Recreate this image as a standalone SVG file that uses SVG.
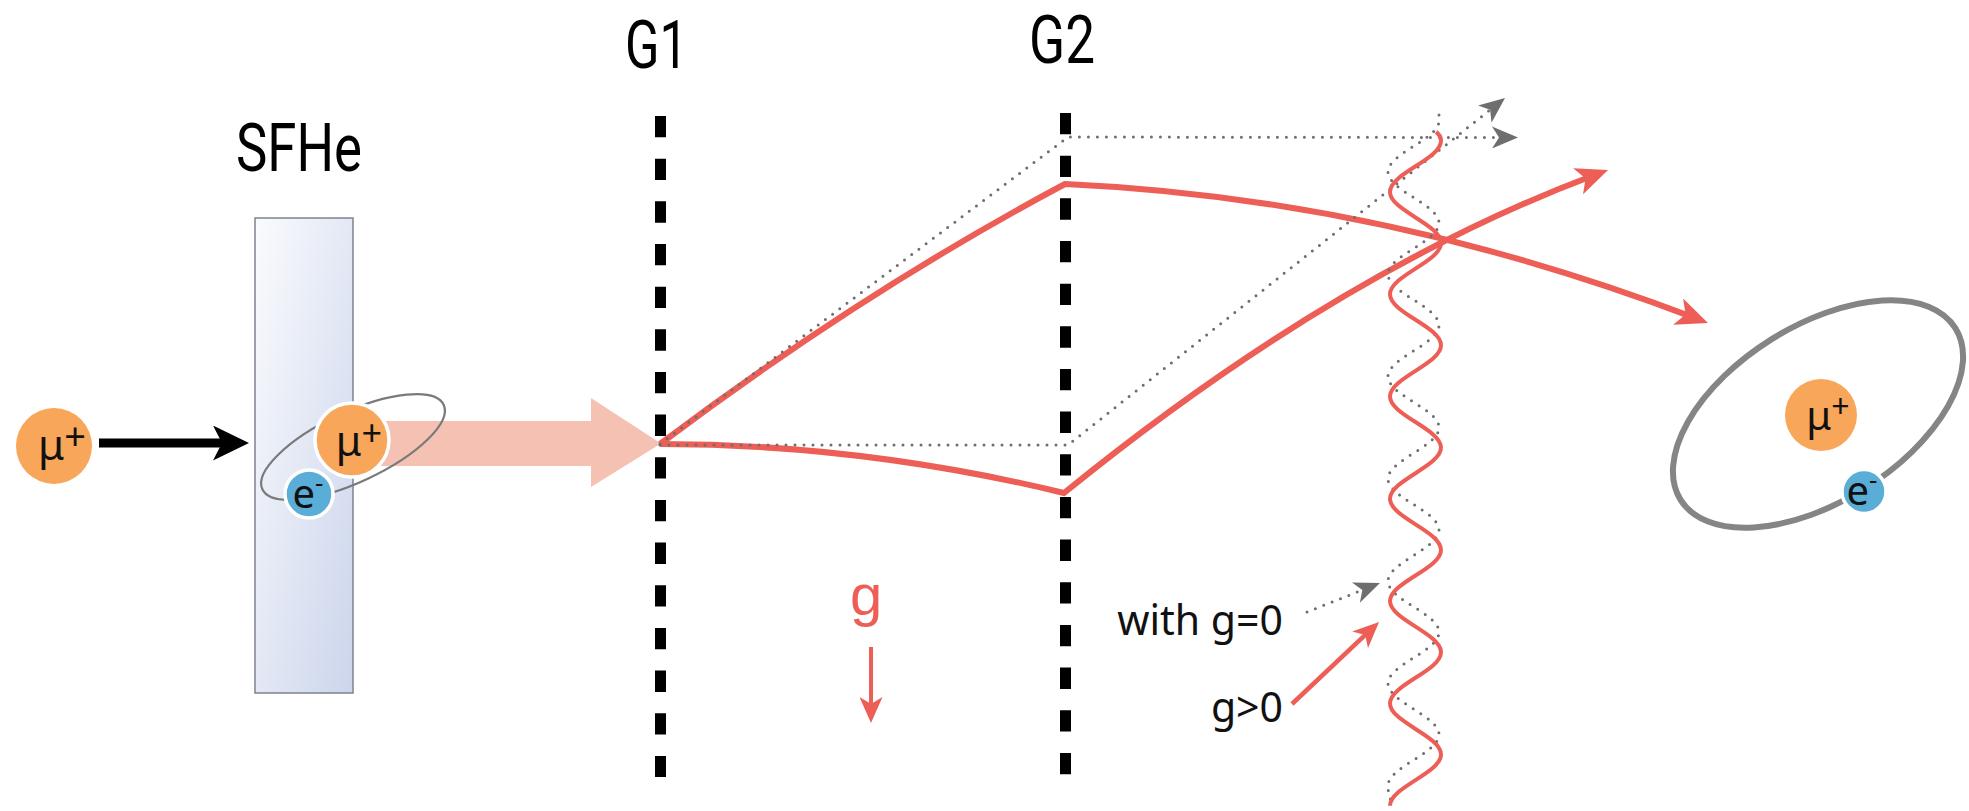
<svg xmlns="http://www.w3.org/2000/svg" width="1969" height="811" viewBox="0 0 1969 811">
  <style>
    .title { font-family: Roboto, "DejaVu Sans", sans-serif; font-size: 67px; font-weight: 400; fill: #000; }
    .lbl { font-family: "Noto Sans", "DejaVu Sans", sans-serif; fill: #111; }
    .mu { fill: #f8a65a; }
    .el { fill: #5aadd7; }
    .ring { stroke: #fff; stroke-width: 3.5; }
    .gate { stroke: #000; stroke-width: 11; stroke-dasharray: 21.33 21.33; fill: none; }
    .beam { stroke: #ed5e57; stroke-width: 6; fill: none; stroke-linejoin: miter; }
    .dots { stroke: #6e6e6e; stroke-width: 3; stroke-dasharray: 0 9; stroke-linecap: round; fill: none; }
    .wave { stroke: #ed5e57; stroke-width: 4; fill: none; }
  </style>
  <defs>
    <linearGradient id="foil" x1="0" y1="0" x2="1" y2="1">
      <stop offset="0" stop-color="#fafbfd"/>
      <stop offset="1" stop-color="#ccd5ec"/>
    </linearGradient>
    <marker id="headBlack" markerUnits="userSpaceOnUse" viewBox="0 0 36 35" markerWidth="36" markerHeight="35" refX="22" refY="17.5" orient="auto">
      <path d="M0,0 L36,17.5 L0,35 L9,17.5 z" fill="#000"/>
    </marker>
    <marker id="headRed" markerUnits="userSpaceOnUse" viewBox="0 0 32 28" markerWidth="32" markerHeight="28" refX="17" refY="14" orient="auto">
      <path d="M0,0 L32,14 L0,28 L8,14 z" fill="#ed5e57"/>
    </marker>
    <marker id="headRedSmall" markerUnits="userSpaceOnUse" viewBox="0 0 26 23" markerWidth="26" markerHeight="23" refX="14" refY="11.5" orient="auto">
      <path d="M0,0 L26,11.5 L0,23 L7,11.5 z" fill="#ed5e57"/>
    </marker>
    <marker id="headGray" markerUnits="userSpaceOnUse" viewBox="0 0 26 22" markerWidth="26" markerHeight="22" refX="16" refY="11" orient="auto">
      <path d="M0,0 L26,11 L0,22 L7,11 z" fill="#6e6e6e"/>
    </marker>
  </defs>

  <!-- stopping foil -->
  <g id="sfhe">
    <rect x="255" y="218" width="98" height="475" fill="url(#foil)" stroke="#7c8291" stroke-width="1.5"/>
    <text class="title" x="236" y="171" textLength="126" lengthAdjust="spacingAndGlyphs">SFHe</text>
  </g>

  <!-- incoming muon -->
  <g id="muon-in">
    <circle class="mu" cx="54" cy="446" r="38"/>
    <text class="lbl" x="62" y="460" font-size="42" text-anchor="middle">μ<tspan font-size="38" dy="-10">+</tspan></text>
  </g>

  <g id="connectors">
    <line x1="99" y1="443" x2="235" y2="443" stroke="#000" stroke-width="9" marker-end="url(#headBlack)"/>
    <polygon id="beam-out" points="352,421 591,421 591,398 661,443.5 591,487 591,466 352,466" fill="#f5c1b3"/>
  </g>

  <!-- muonium leaving the foil -->
  <g id="muonium-foil">
    <ellipse cx="353" cy="447" rx="100" ry="35" transform="rotate(-25 353 447)" fill="none" stroke="#7a7a7a" stroke-width="2.2"/>
    <circle class="mu ring" cx="352" cy="440" r="37"/>
    <text class="lbl" x="359" y="456" font-size="41" text-anchor="middle">μ<tspan font-size="36" dy="-10">+</tspan></text>
    <circle class="el ring" cx="309" cy="494" r="24"/>
    <text class="lbl" x="308" y="508" font-size="40" text-anchor="middle">e<tspan font-size="26" dy="-16">-</tspan></text>
  </g>

  <!-- gratings -->
  <g id="g1">
    <line class="gate" x1="660.5" y1="116" x2="660.5" y2="777"/>
    <text class="title" x="625" y="68" textLength="63" lengthAdjust="spacingAndGlyphs">G1</text>
  </g>
  <g id="g2">
    <line class="gate" x1="1065.5" y1="113" x2="1065.5" y2="775"/>
    <text class="title" x="1029" y="63" textLength="66" lengthAdjust="spacingAndGlyphs">G2</text>
  </g>

  <g id="trajectories">
    <!-- paths under gravity -->
    <path class="beam" d="M660,444 Q862.5,291.7 1065,184 Q1380,198 1694,317.6" marker-end="url(#headRed)"/>
    <path class="beam" d="M660,444 Q862,444 1064,493 Q1336,272 1594,175.3" marker-end="url(#headRed)"/>
    <!-- straight paths for g=0 -->
    <path class="dots" d="M660,444 L1068,137 L1508,137.5" marker-end="url(#headGray)"/>
    <path class="dots" d="M660,445 L1068,445 L1497.2,104.2" marker-end="url(#headGray)"/>
  </g>

  <!-- interference fringes -->
  <g id="fringes">
    <path class="dots" d="M1439,115 L1439,120.7 C1439,139.3 1388,153.3 1388,171.9 C1388,190.5 1439,204.4 1439,223 C1439,241.6 1388,255.6 1388,274.2 C1388,292.8 1439,306.7 1439,325.3 C1439,343.9 1388,357.9 1388,376.5 C1388,395.1 1439,409 1439,427.6 C1439,446.2 1388,460.2 1388,478.8 C1388,497.4 1439,511.3 1439,529.9 C1439,548.5 1388,562.5 1388,581.1 C1388,599.7 1439,613.6 1439,632.2 C1439,650.8 1388,664.8 1388,683.4 C1388,702 1439,715.9 1439,734.5 C1439,753.1 1388,767.1 1388,785.7 C1388,793 1390,799 1393,805"/>
    <path class="wave" d="M1436,132 C1439,134 1441,137 1441,140.7 C1441,159.3 1390,173.3 1390,191.9 C1390,210.5 1441,224.4 1441,243 C1441,261.6 1390,275.6 1390,294.2 C1390,312.8 1441,326.7 1441,345.3 C1441,363.9 1390,377.9 1390,396.5 C1390,415.1 1441,429 1441,447.6 C1441,466.2 1390,480.2 1390,498.8 C1390,517.4 1441,531.3 1441,549.9 C1441,568.5 1390,582.5 1390,601.1 C1390,619.7 1441,633.6 1441,652.2 C1441,670.8 1390,684.8 1390,703.4 C1390,722 1441,735.9 1441,754.5 C1441,773.1 1390,787.1 1390,805.7"/>
  </g>

  <!-- legend -->
  <g id="legend-g0">
    <text class="lbl" x="1283" y="635" font-size="41" text-anchor="end">with g=0</text>
    <path class="dots" d="M1307,612 L1370.7,586.7" marker-end="url(#headGray)"/>
  </g>
  <g id="legend-g">
    <text class="lbl" x="1283" y="722" font-size="41" text-anchor="end">g&gt;0</text>
    <line x1="1292" y1="704" x2="1370.3" y2="630.2" stroke="#ed5e57" stroke-width="4.5" marker-end="url(#headRedSmall)"/>
  </g>

  <!-- gravity -->
  <g id="gravity">
    <text x="850" y="615" font-family="'Liberation Sans', Arial, sans-serif" font-size="58" fill="#ed5e57">g</text>
    <line x1="871" y1="647" x2="871" y2="711" stroke="#ed5e57" stroke-width="4" marker-end="url(#headRedSmall)"/>
  </g>

  <!-- muonium atom -->
  <g id="muonium">
    <ellipse cx="1818" cy="414" rx="162" ry="88" transform="rotate(-32 1818 414)" fill="none" stroke="#858585" stroke-width="6"/>
    <circle class="mu" cx="1821" cy="415" r="36"/>
    <text class="lbl" x="1828" y="430" font-size="40" text-anchor="middle">μ<tspan font-size="32" dy="-12">+</tspan></text>
    <circle class="el ring" cx="1864" cy="491.5" r="22" stroke-width="4"/>
    <text class="lbl" x="1862" y="505" font-size="40" text-anchor="middle">e<tspan font-size="26" dy="-16">-</tspan></text>
  </g>
</svg>
